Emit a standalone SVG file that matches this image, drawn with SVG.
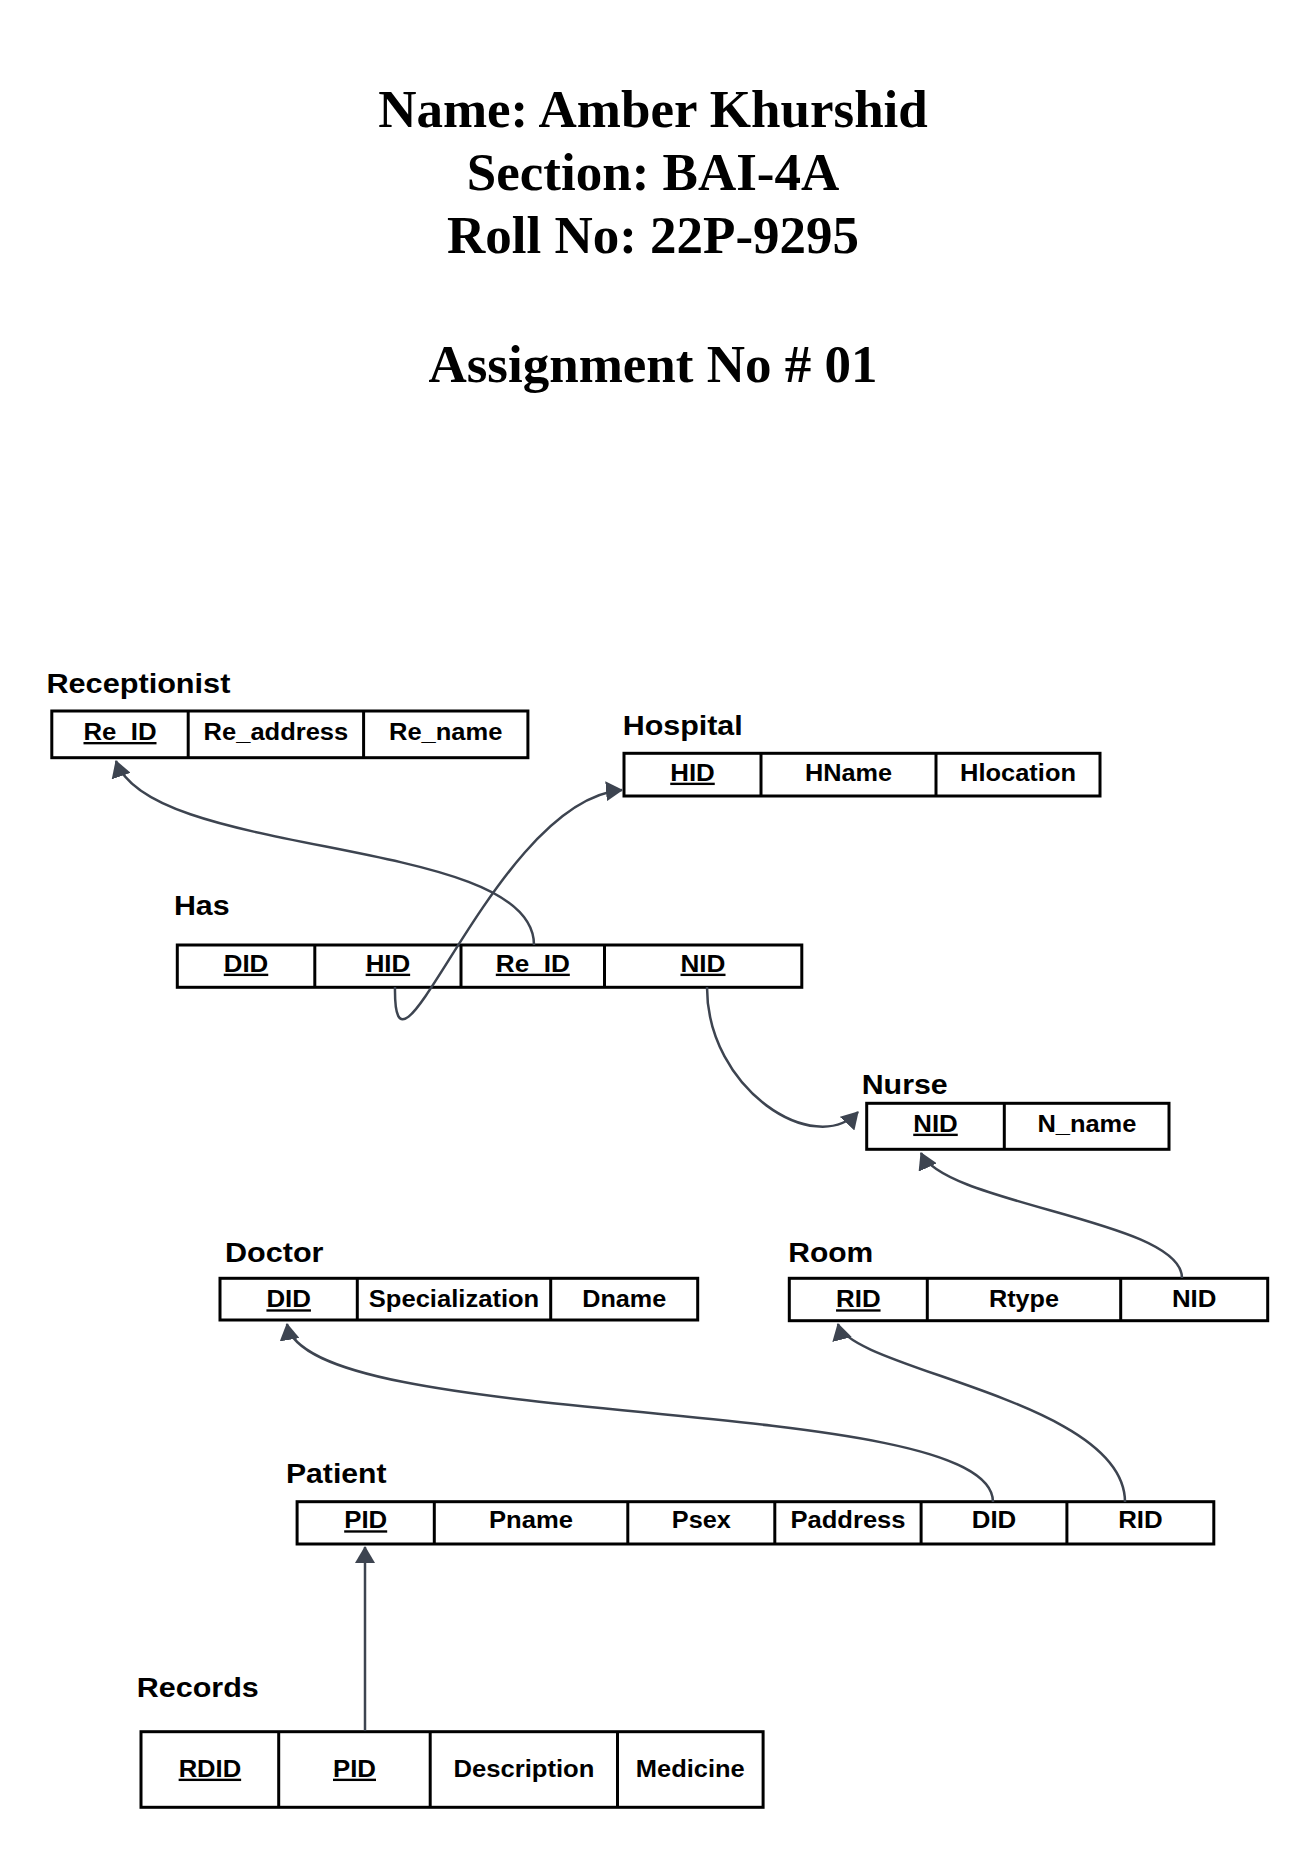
<svg xmlns="http://www.w3.org/2000/svg" width="1306" height="1849" viewBox="0 0 1306 1849">
<defs>
<marker id="arr" markerUnits="userSpaceOnUse" markerWidth="17" markerHeight="20" viewBox="0 0 17 20" refX="16" refY="10" orient="auto">
<path d="M0,0 L17,10 L0,20 Z" fill="#3d4450"/>
</marker>
<style>
.box{fill:#fff;stroke:#000;stroke-width:3}
.dv{stroke:#000;stroke-width:3}
.lbl{font-family:"Liberation Sans",Arial,sans-serif;font-weight:bold;font-size:27px;fill:#000}
.cell{font-family:"Liberation Sans",Arial,sans-serif;font-weight:bold;font-size:23.5px;fill:#000;text-anchor:middle}
.key{text-decoration:underline}
.title{font-family:"Liberation Serif","Times New Roman",serif;font-weight:bold;font-size:53px;fill:#000;text-anchor:middle}
.conn{fill:none;stroke:#3d4450;stroke-width:2.5;marker-end:url(#arr)}
</style>
</defs>
<rect width="1306" height="1849" fill="#fff"/>

<g id="title">
<text class="title" x="653" y="126.7">Name: Amber Khurshid</text>
<text class="title" x="653" y="190">Section: BAI-4A</text>
<text class="title" x="653" y="253.3">Roll No: 22P-9295</text>
<text class="title" x="653" y="381.7">Assignment No # 01</text>
</g>

<g id="receptionist">
<text class="lbl" x="46.4" y="693.3" textLength="184" lengthAdjust="spacingAndGlyphs">Receptionist</text>
<rect class="box" x="51.8" y="711" width="476.1" height="46.7"/>
<line class="dv" x1="188.2" y1="711" x2="188.2" y2="757.7"/>
<line class="dv" x1="363.6" y1="711" x2="363.6" y2="757.7"/>
<text class="cell key" x="120" y="740" textLength="73" lengthAdjust="spacingAndGlyphs">Re_ID</text>
<text class="cell" x="275.9" y="740" textLength="144.6" lengthAdjust="spacingAndGlyphs">Re_address</text>
<text class="cell" x="445.7" y="740" textLength="113.4" lengthAdjust="spacingAndGlyphs">Re_name</text>
</g>

<g id="hospital">
<text class="lbl" x="622.7" y="735" textLength="120" lengthAdjust="spacingAndGlyphs">Hospital</text>
<rect class="box" x="624" y="753.3" width="476" height="42.7"/>
<line class="dv" x1="761" y1="753.3" x2="761" y2="796"/>
<line class="dv" x1="936" y1="753.3" x2="936" y2="796"/>
<text class="cell key" x="692.5" y="780.7" textLength="44.5" lengthAdjust="spacingAndGlyphs">HID</text>
<text class="cell" x="848.5" y="780.7" textLength="87" lengthAdjust="spacingAndGlyphs">HName</text>
<text class="cell" x="1018" y="780.7" textLength="116" lengthAdjust="spacingAndGlyphs">Hlocation</text>
</g>

<g id="has">
<text class="lbl" x="173.9" y="915" textLength="55.7" lengthAdjust="spacingAndGlyphs">Has</text>
<rect class="box" x="177.3" y="945" width="624.5" height="42.3"/>
<line class="dv" x1="314.8" y1="945" x2="314.8" y2="987.3"/>
<line class="dv" x1="461" y1="945" x2="461" y2="987.3"/>
<line class="dv" x1="604.5" y1="945" x2="604.5" y2="987.3"/>
<text class="cell key" x="246" y="971.7" textLength="44.5" lengthAdjust="spacingAndGlyphs">DID</text>
<text class="cell key" x="387.9" y="971.7" textLength="44.5" lengthAdjust="spacingAndGlyphs">HID</text>
<text class="cell key" x="532.8" y="971.7" textLength="74" lengthAdjust="spacingAndGlyphs">Re_ID</text>
<text class="cell key" x="703" y="971.7" textLength="45" lengthAdjust="spacingAndGlyphs">NID</text>
</g>

<g id="nurse">
<text class="lbl" x="861.7" y="1094.3" textLength="86" lengthAdjust="spacingAndGlyphs">Nurse</text>
<rect class="box" x="866.7" y="1103.3" width="302.3" height="46"/>
<line class="dv" x1="1004.3" y1="1103.3" x2="1004.3" y2="1149.3"/>
<text class="cell key" x="935.5" y="1131.7" textLength="44.5" lengthAdjust="spacingAndGlyphs">NID</text>
<text class="cell" x="1086.9" y="1131.7" textLength="99" lengthAdjust="spacingAndGlyphs">N_name</text>
</g>

<g id="doctor">
<text class="lbl" x="225" y="1261.7" textLength="98.5" lengthAdjust="spacingAndGlyphs">Doctor</text>
<rect class="box" x="220" y="1278.3" width="477.7" height="41.7"/>
<line class="dv" x1="357.3" y1="1278.3" x2="357.3" y2="1320"/>
<line class="dv" x1="550.7" y1="1278.3" x2="550.7" y2="1320"/>
<text class="cell key" x="288.7" y="1307.3" textLength="44.5" lengthAdjust="spacingAndGlyphs">DID</text>
<text class="cell" x="454" y="1307.3" textLength="170.5" lengthAdjust="spacingAndGlyphs">Specialization</text>
<text class="cell" x="624.2" y="1307.3" textLength="84" lengthAdjust="spacingAndGlyphs">Dname</text>
</g>

<g id="room">
<text class="lbl" x="788.3" y="1261.7" textLength="85" lengthAdjust="spacingAndGlyphs">Room</text>
<rect class="box" x="789.3" y="1278.3" width="478.4" height="42.4"/>
<line class="dv" x1="927.3" y1="1278.3" x2="927.3" y2="1320.7"/>
<line class="dv" x1="1120.7" y1="1278.3" x2="1120.7" y2="1320.7"/>
<text class="cell key" x="858.3" y="1307.3" textLength="44.5" lengthAdjust="spacingAndGlyphs">RID</text>
<text class="cell" x="1024" y="1307.3" textLength="70" lengthAdjust="spacingAndGlyphs">Rtype</text>
<text class="cell" x="1194.2" y="1307.3" textLength="44.5" lengthAdjust="spacingAndGlyphs">NID</text>
</g>

<g id="patient">
<text class="lbl" x="286" y="1483.3" textLength="100.5" lengthAdjust="spacingAndGlyphs">Patient</text>
<rect class="box" x="297.1" y="1501.7" width="916.7" height="42.3"/>
<line class="dv" x1="434.3" y1="1501.7" x2="434.3" y2="1544"/>
<line class="dv" x1="627.8" y1="1501.7" x2="627.8" y2="1544"/>
<line class="dv" x1="774.8" y1="1501.7" x2="774.8" y2="1544"/>
<line class="dv" x1="921.1" y1="1501.7" x2="921.1" y2="1544"/>
<line class="dv" x1="1066.9" y1="1501.7" x2="1066.9" y2="1544"/>
<text class="cell key" x="365.7" y="1528.3" textLength="43" lengthAdjust="spacingAndGlyphs">PID</text>
<text class="cell" x="531" y="1528.3" textLength="84" lengthAdjust="spacingAndGlyphs">Pname</text>
<text class="cell" x="701.3" y="1528.3" textLength="59" lengthAdjust="spacingAndGlyphs">Psex</text>
<text class="cell" x="848" y="1528.3" textLength="115" lengthAdjust="spacingAndGlyphs">Paddress</text>
<text class="cell" x="994" y="1528.3" textLength="44.5" lengthAdjust="spacingAndGlyphs">DID</text>
<text class="cell" x="1140.4" y="1528.3" textLength="44.5" lengthAdjust="spacingAndGlyphs">RID</text>
</g>

<g id="records">
<text class="lbl" x="136.8" y="1696.7" textLength="122" lengthAdjust="spacingAndGlyphs">Records</text>
<rect class="box" x="141" y="1731.7" width="622.1" height="75.6"/>
<line class="dv" x1="278.7" y1="1731.7" x2="278.7" y2="1807.3"/>
<line class="dv" x1="430.2" y1="1731.7" x2="430.2" y2="1807.3"/>
<line class="dv" x1="617.5" y1="1731.7" x2="617.5" y2="1807.3"/>
<text class="cell key" x="209.9" y="1776.7" textLength="62.5" lengthAdjust="spacingAndGlyphs">RDID</text>
<text class="cell key" x="354.5" y="1776.7" textLength="43" lengthAdjust="spacingAndGlyphs">PID</text>
<text class="cell" x="523.9" y="1776.7" textLength="141" lengthAdjust="spacingAndGlyphs">Description</text>
<text class="cell" x="690.3" y="1776.7" textLength="109" lengthAdjust="spacingAndGlyphs">Medicine</text>
</g>

<g id="connectors">
<path class="conn" d="M534,945 C534,835 150,860 116,761"/>
<path class="conn" d="M395,987 C393,1120 495,800 622,790"/>
<path class="conn" d="M707,987 C707,1090 815,1158 858,1112"/>
<path class="conn" d="M1182,1278 C1182,1220 945,1205 921,1153"/>
<path class="conn" d="M993,1502 C993,1392 305,1433 287,1324"/>
<path class="conn" d="M1125,1502 C1125,1400 850,1370 838,1324"/>
<path class="conn" d="M365,1731 L365,1547"/>
</g>
</svg>
